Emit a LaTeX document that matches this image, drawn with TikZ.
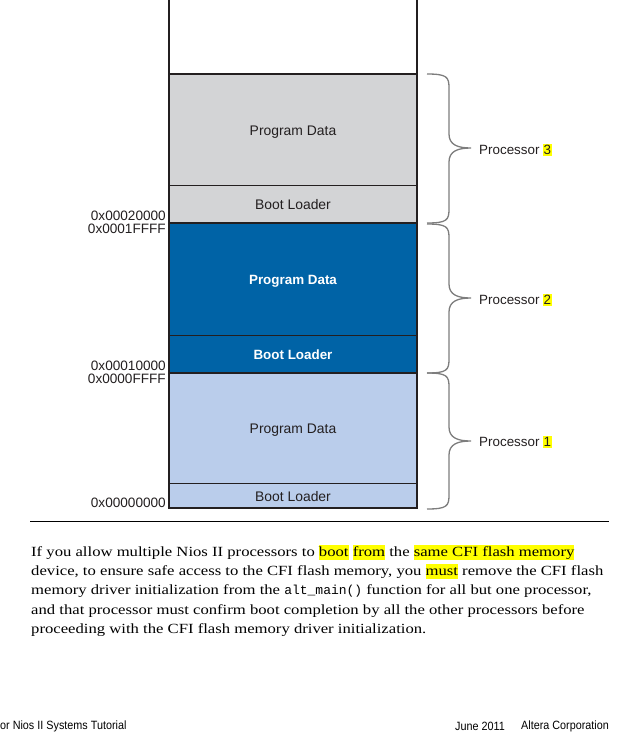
\documentclass[tikz,border=0pt]{standalone}
\usepackage{fontspec}
\setmainfont[FakeStretch=1.19]{Liberation Serif}
\setmonofont{Liberation Mono}
\newfontfamily\hvfont{Liberation Sans}
\newfontfamily\narrowfont[FakeStretch=0.9]{Liberation Sans}
\definecolor{memgray}{RGB}{211,212,214}
\definecolor{memblue}{RGB}{0,99,166}
\definecolor{memlight}{RGB}{186,205,235}
\definecolor{edgecol}{RGB}{35,31,32}
\definecolor{bracegray}{RGB}{125,125,125}
\definecolor{hly}{RGB}{255,255,0}
\newcommand\hlbox[1]{{\setlength{\fboxsep}{0pt}\colorbox{hly}{\rule[-4pt]{0pt}{15pt}#1}}}
\newcommand\hldigit[1]{{\setlength{\fboxsep}{0.5pt}\colorbox{hly}{\rule[-1pt]{0pt}{11pt}#1}}}
\newcommand\membrace[3]{%
  \draw[bracestyle] (427,#1) .. controls (447,#1) and (449,#1+3) .. (449,#1+14)
    -- (449,#3-14) .. controls (449,#3-3) and (458,#3) .. (471,#3)
    .. controls (458,#3) and (449,#3+3) .. (449,#3+14)
    -- (449,#2-14) .. controls (449,#2-3) and (447,#2) .. (427,#2);}
\begin{document}
\begin{tikzpicture}[x=1pt,y=-1pt,
  region/.style={anchor=north west, minimum width=248pt, inner sep=0pt, outer sep=0pt,
    text height=11pt, text depth=0pt,
    font=\hvfont\fontsize{13.9}{15}\selectfont, text=edgecol},
  addr/.style={anchor=east, inner sep=0pt, font=\hvfont\fontsize{13.6}{15}\selectfont, text=edgecol},
  proc/.style={anchor=west, inner sep=0pt, font=\hvfont\fontsize{13.4}{15}\selectfont, text=edgecol},
  thickline/.style={line width=2.4pt, draw=edgecol},
  thinline/.style={line width=0.9pt, draw=edgecol},
  bracestyle/.style={line width=1.3pt, draw=bracegray},
  bodyline/.style={anchor=base west, inner sep=0pt, font=\fontsize{14}{19}\selectfont, text=black},
  foot/.style={inner sep=0pt, font=\narrowfont\fontsize{12}{14}\selectfont, text=black}]
\useasboundingbox (0,0) rectangle (629,745);
% memory regions
\node[region, minimum height=74pt] (top) at (169,0) {};
\node[region, fill=memgray, minimum height=111pt] (p3data) at (169,74) {Program Data};
\node[region, fill=memgray, minimum height=38pt] (p3boot) at (169,185) {Boot Loader};
\node[region, fill=memblue, minimum height=112pt, text=white, font=\hvfont\bfseries\fontsize{13.4}{15}\selectfont] (p2data) at (169,223) {Program Data};
\node[region, fill=memblue, minimum height=38pt, text=white, font=\hvfont\bfseries\fontsize{13.4}{15}\selectfont] (p2boot) at (169,335) {Boot Loader};
\node[region, fill=memlight, minimum height=110pt] (p1data) at (169,373) {Program Data};
\node[region, fill=memlight, minimum height=25pt] (p1boot) at (169,483) {Boot Loader};
% dividers
\draw[thinline] (p3data.south west) -- (p3data.south east);
\draw[thinline] (p2data.south west) -- (p2data.south east);
\draw[thinline] (p1data.south west) -- (p1data.south east);
\draw[thickline] (top.south west) -- (top.south east);
\draw[thickline] (p3boot.south west) -- (p3boot.south east);
\draw[thickline] (p2boot.south west) -- (p2boot.south east);
\draw[thickline] ([xshift=-1.2pt]p1boot.south west) -- ([xshift=1.2pt]p1boot.south east);
\draw[thickline] (top.north west) -- (p1boot.south west);
\draw[thickline] (top.north east) -- (p1boot.south east);
% addresses
\node[addr] (a20000) at (166,216) {0x00020000};
\node[addr] (a1ffff) at (166,229) {0x0001FFFF};
\node[addr] (a10000) at (166,366) {0x00010000};
\node[addr] (a0ffff) at (166,379) {0x0000FFFF};
\node[addr] (a00000) at (166,503) {0x00000000};
% braces
\membrace{74}{223}{148}
\membrace{224}{373}{298}
\membrace{373}{509}{441}
\node[proc] (proc3) at (479,150) {Processor \hldigit{3}};
\node[proc] (proc2) at (479,300) {Processor \hldigit{2}};
\node[proc] (proc1) at (479,442) {Processor \hldigit{1}};
% rule
\coordinate (ruleL) at (30,521);
\coordinate (ruleR) at (609,521);
\draw[line width=0.9pt] (ruleL) -- (ruleR);
% body text
\node[bodyline] (l1) at (31,556) {If you allow multiple Nios II processors to \hlbox{boot} \hlbox{from} the \hlbox{same CFI flash memory}};
\node[bodyline] (l2) at (31,575) {device, to ensure safe access to the CFI flash memory, you \hlbox{must} remove the CFI flash};
\node[bodyline] (l3) at (31,594) {memory driver initialization from the {\fontsize{13}{14}\selectfont\ttfamily alt\_main()} function for all but one processor,};
\node[bodyline] (l4) at (31,614) {and that processor must confirm boot completion by all the other processors before};
\node[bodyline] (l5) at (31,633) {proceeding with the CFI flash memory driver initialization.};
% footer
\node[foot, anchor=west] (f1) at (0,726) {or Nios II Systems Tutorial};
\node[foot, anchor=west] (f2) at (455,726) {June 2011};
\node[foot, anchor=east] (f3) at (609,726) {Altera Corporation};
\end{tikzpicture}
\end{document}
